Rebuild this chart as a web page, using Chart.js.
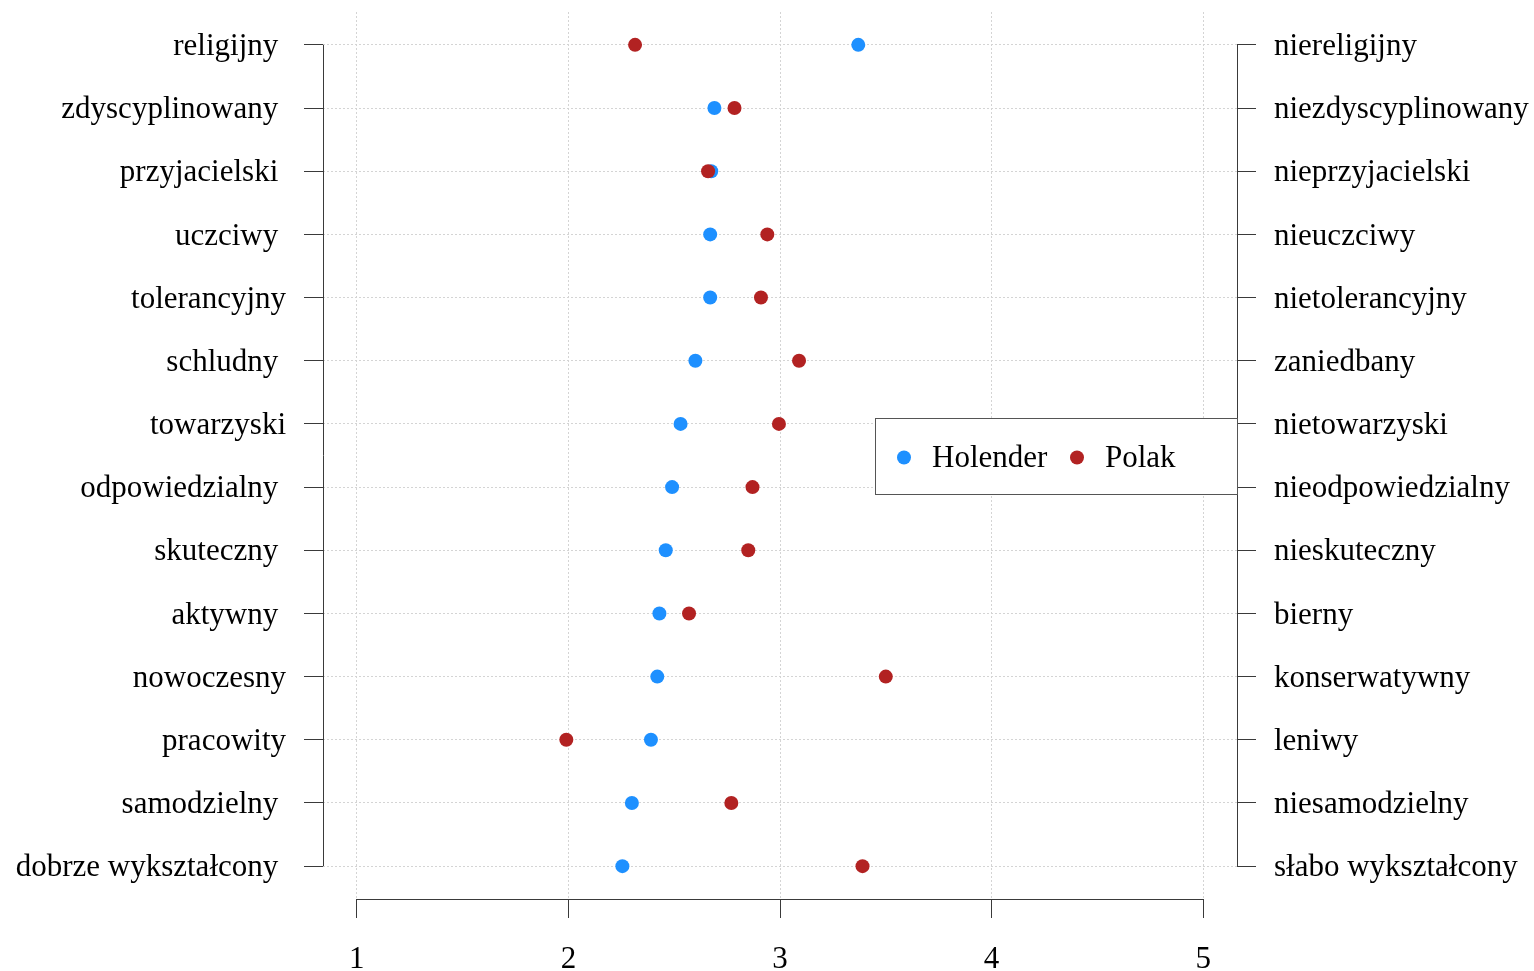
<!DOCTYPE html>
<html>
<head>
<meta charset="utf-8">
<title>Holender / Polak</title>
<script src="https://cdn.jsdelivr.net/npm/chart.js@4.4.1/dist/chart.umd.min.js"></script>
<style>
    html, body { margin: 0; padding: 0; background: #fff; }
</style>
</head>
<body>
<canvas id="dot-chart" width="1534" height="971"></canvas>
<script>
// left / right ends of each semantic scale, top row first
var leftLabels = [
    'religijny ', 'zdyscyplinowany ', 'przyjacielski ', 'uczciwy ', 'tolerancyjny',
    'schludny ', 'towarzyski', 'odpowiedzialny ', 'skuteczny ', 'aktywny ',
    'nowoczesny', 'pracowity', 'samodzielny ', 'dobrze wykształcony '
];
var rightLabels = [
    'niereligijny', 'niezdyscyplinowany', 'nieprzyjacielski', 'nieuczciwy', 'nietolerancyjny',
    'zaniedbany', 'nietowarzyski', 'nieodpowiedzialny', 'nieskuteczny', 'bierny',
    'konserwatywny', 'leniwy', 'niesamodzielny', 'słabo wykształcony'
];
var xTicks = [1, 2, 3, 4, 5];

var seriesNames = ['Holender', 'Polak'];
var holender = [3.37, 2.69, 2.675, 2.67, 2.67, 2.60, 2.53, 2.49, 2.46, 2.43, 2.42, 2.39, 2.30, 2.255];
var polak = [2.315, 2.785, 2.66, 2.94, 2.91, 3.09, 2.995, 2.87, 2.85, 2.57, 3.50, 1.99, 2.77, 3.39];

(function () {
    'use strict';

    var FONT = "'Liberation Serif', 'Times New Roman', serif";
    var BLUE = '#1E90FF';
    var RED = '#B22222';
    var AXIS = '#3a3a3a';
    var GRID = '#d4d4d4';

    function toPoints(values) {
        return values.map(function (v, i) { return { x: v, y: i }; });
    }

    function rowTicks(scale) {
        scale.ticks = leftLabels.map(function (_, i) { return { value: i }; });
    }

    // R-style axes: lines only between first and last tick, plus the legend box
    var refAxes = {
        id: 'refAxes',
        afterDraw: function (chart) {
            var ctx = chart.ctx;
            var area = chart.chartArea;
            var xs = chart.scales.x;
            var ys = chart.scales.y;
            var yTop = ys.getPixelForValue(0);
            var yBot = ys.getPixelForValue(leftLabels.length - 1);

            ctx.save();
            ctx.strokeStyle = AXIS;
            ctx.lineWidth = 1;
            ctx.setLineDash([]);
            ctx.beginPath();
            ctx.moveTo(Math.round(area.left) + 0.5, yTop);
            ctx.lineTo(Math.round(area.left) + 0.5, yBot);
            ctx.moveTo(Math.round(area.right) + 0.5, yTop);
            ctx.lineTo(Math.round(area.right) + 0.5, yBot);
            ctx.moveTo(xs.getPixelForValue(xTicks[0]), Math.round(area.bottom) + 0.5);
            ctx.lineTo(xs.getPixelForValue(xTicks[xTicks.length - 1]), Math.round(area.bottom) + 0.5);
            ctx.stroke();

            // legend
            var w = 362, h = 76;
            var left = Math.round(area.right) - w;
            var cy = ys.getPixelForValue(6.5);
            var top = Math.round(cy - h / 2);
            ctx.fillStyle = '#fff';
            ctx.fillRect(left, top, w, h);
            ctx.strokeStyle = '#555';
            ctx.strokeRect(left + 0.5, top + 0.5, w, h);

            var items = [
                { name: seriesNames[0], color: BLUE, dx: 29 },
                { name: seriesNames[1], color: RED, dx: 202 }
            ];
            ctx.font = '31px ' + FONT;
            ctx.textBaseline = 'middle';
            ctx.textAlign = 'left';
            items.forEach(function (it) {
                ctx.fillStyle = it.color;
                ctx.beginPath();
                ctx.arc(left + it.dx, cy + 2, 7, 0, Math.PI * 2);
                ctx.fill();
                ctx.fillStyle = '#000';
                ctx.fillText(it.name, left + it.dx + 28, cy + 3);
            });
            ctx.restore();
        }
    };

    var ctx = document.getElementById('dot-chart').getContext('2d');

    new Chart(ctx, {
        type: 'scatter',
        data: {
            datasets: [{
                label: seriesNames[0],
                data: toPoints(holender),
                backgroundColor: BLUE,
                borderWidth: 0,
                pointRadius: 7,
                pointHoverRadius: 7,
                order: 1
            }, {
                label: seriesNames[1],
                data: toPoints(polak),
                backgroundColor: RED,
                borderWidth: 0,
                pointRadius: 7,
                pointHoverRadius: 7,
                order: 0
            }]
        },
        options: {
            responsive: false,
            devicePixelRatio: 1,
            animation: false,
            events: [],
            layout: { padding: { top: 12, right: 0, bottom: 0, left: 0 } },
            plugins: {
                legend: { display: false },
                tooltip: { enabled: false }
            },
            scales: {
                x: {
                    type: 'linear',
                    position: 'bottom',
                    min: 0.84,
                    max: 5.16,
                    afterBuildTicks: function (scale) {
                        scale.ticks = xTicks.map(function (v) { return { value: v }; });
                    },
                    afterFit: function (scale) {
                        scale.height = 72;
                        scale.paddingLeft = 0;
                        scale.paddingRight = 0;
                    },
                    border: { display: false, dash: [2, 2] },
                    grid: {
                        color: GRID,
                        borderDash: [2, 2],
                        tickColor: AXIS,
                        tickLength: 19,
                        tickBorderDash: []
                    },
                    ticks: {
                        color: '#000',
                        padding: 23,
                        maxRotation: 0,
                        autoSkip: false,
                        font: { family: FONT, size: 31 },
                        callback: function (v) { return String(v); }
                    }
                },
                y: {
                    type: 'linear',
                    position: 'left',
                    reverse: true,
                    min: -0.52,
                    max: leftLabels.length - 1 + 0.52,
                    afterBuildTicks: rowTicks,
                    afterFit: function (scale) {
                        scale.width = 323;
                        scale.paddingTop = 0;
                        scale.paddingBottom = 0;
                    },
                    border: { display: false, dash: [2, 2] },
                    grid: {
                        color: GRID,
                        borderDash: [2, 2],
                        tickColor: AXIS,
                        tickLength: 19,
                        tickBorderDash: []
                    },
                    ticks: {
                        color: '#000',
                        padding: 18,
                        labelOffset: 2,
                        autoSkip: false,
                        font: { family: FONT, size: 31 },
                        callback: function (v) { return leftLabels[v]; }
                    }
                },
                y2: {
                    type: 'linear',
                    position: 'right',
                    reverse: true,
                    min: -0.52,
                    max: rightLabels.length - 1 + 0.52,
                    afterBuildTicks: rowTicks,
                    afterFit: function (scale) {
                        scale.width = 297;
                        scale.paddingTop = 0;
                        scale.paddingBottom = 0;
                    },
                    border: { display: false },
                    grid: {
                        drawOnChartArea: false,
                        color: GRID,
                        tickColor: AXIS,
                        tickLength: 19,
                        tickBorderDash: []
                    },
                    ticks: {
                        color: '#000',
                        padding: 18,
                        labelOffset: 2,
                        autoSkip: false,
                        font: { family: FONT, size: 31 },
                        callback: function (v) { return rightLabels[v]; }
                    }
                }
            }
        },
        plugins: [refAxes]
    });
})();
</script>
</body>
</html>
